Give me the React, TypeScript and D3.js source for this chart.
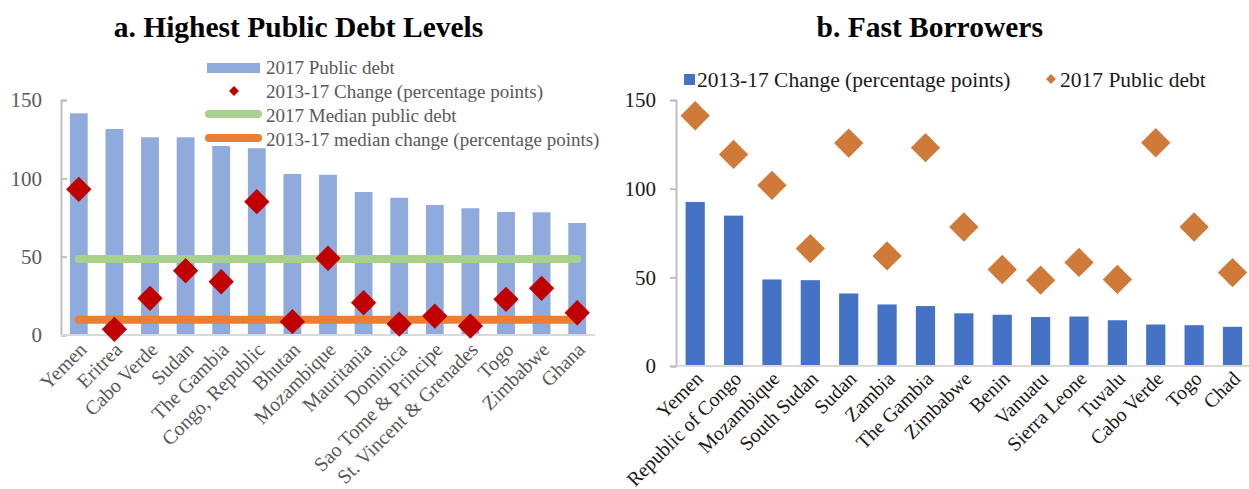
import React, { useEffect, useRef } from 'react';
import * as d3 from 'd3';

// panel a: highest public debt levels
const debtCountries = ['Yemen', 'Eritrea', 'Cabo Verde', 'Sudan', 'The Gambia', 'Congo, Republic', 'Bhutan', 'Mozambique', 'Mauritania', 'Dominica', 'Sao Tome & Principe', 'St. Vincent & Grenades', 'Togo', 'Zimbabwe', 'Ghana'];
const debtLevel = [141.5, 131.5, 126.2, 126.2, 124, 119.2, 102.8, 102.3, 91.3, 87.6, 83, 80.9, 78.5, 78.3, 71.5];
const debtChange = [93, 3.6, 23.4, 41, 34, 85.1, 8.5, 49, 20.6, 7, 12.1, 5.7, 22.8, 29.8, 14.2];
const medianDebt = 48.5;
const medianChange = 9.8;

// panel b: fast borrowers
const fastCountries = ['Yemen', 'Republic of Congo', 'Mozambique', 'South Sudan', 'Sudan', 'Zambia', 'The Gambia', 'Zimbabwe', 'Benin', 'Vanuatu', 'Sierra Leone', 'Tuvalu', 'Cabo Verde', 'Togo', 'Chad'];
const fastChange = [92.5, 84.8, 48.8, 48.4, 40.9, 34.7, 33.8, 29.7, 28.9, 27.6, 27.9, 25.8, 23.4, 23.0, 22.1];
const fastDebt = [141.1, 119.3, 101.9, 66.2, 125.7, 62.1, 123.1, 78.4, 54.4, 48.4, 58.4, 48.8, 125.9, 78.4, 52.7];

const yTicks = [0, 50, 100, 150];

const FONT = '"Liberation Serif", "Times New Roman", serif';

export default function App() {
  const ref = useRef<SVGSVGElement>(null);

  useEffect(() => {
    const svg = d3.select(ref.current);
    svg.selectAll('*').remove();
    svg.attr('font-family', FONT);

    // ---------- panel a ----------
    const xa = d3.scaleBand<string>().domain(debtCountries).range([61, 595]).paddingInner(0.5).paddingOuter(0.25);
    const ya = d3.scaleLinear().domain([0, 150]).range([335, 100]);
    const ca = (c: string) => (xa(c) as number) + xa.bandwidth() / 2;

    svg.append('text')
      .attr('x', 298.5).attr('y', 37)
      .attr('text-anchor', 'middle')
      .style('font-size', '29.5px').style('font-weight', 'bold')
      .text('a. Highest Public Debt Levels');

    const axA = svg.append('g')
      .attr('transform', 'translate(61,0)')
      .call(d3.axisRight(ya).tickValues(yTicks).tickSize(6).tickFormat(() => ''));
    axA.select('.domain').attr('stroke', '#bfbfbf').attr('stroke-width', 2);
    axA.selectAll('.tick line').attr('stroke', '#bfbfbf').attr('stroke-width', 2);
    svg.append('g').selectAll('text').data(yTicks).enter().append('text')
      .attr('x', 42).attr('y', (d) => ya(d)).attr('dy', '0.35em')
      .attr('text-anchor', 'end').attr('fill', '#595959')
      .style('font-size', '21px')
      .text((d) => d);

    svg.append('g').selectAll('rect').data(debtCountries).enter().append('rect')
      .attr('x', (d) => xa(d) as number)
      .attr('y', (d, i) => ya(debtLevel[i]))
      .attr('width', xa.bandwidth())
      .attr('height', (d, i) => ya(0) - ya(debtLevel[i]))
      .attr('fill', '#8faadc');

    svg.append('line').attr('x1', 61).attr('x2', 595).attr('y1', 335).attr('y2', 335)
      .attr('stroke', '#d9d9d9').attr('stroke-width', 2);

    const medLine = d3.line<number>().x((d, i) => ca(debtCountries[i === 0 ? 0 : debtCountries.length - 1])).y((d) => ya(d));
    svg.append('path').attr('d', medLine([medianDebt, medianDebt]))
      .attr('stroke', '#a9d18e').attr('stroke-width', 8).attr('stroke-linecap', 'round').attr('fill', 'none');
    svg.append('path').attr('d', medLine([medianChange, medianChange]))
      .attr('stroke', '#ed7d31').attr('stroke-width', 8).attr('stroke-linecap', 'round').attr('fill', 'none');

    const diamondA = d3.symbol(d3.symbolSquare, 320);
    svg.append('g').selectAll('path').data(debtCountries).enter().append('path')
      .attr('d', diamondA)
      .attr('transform', (d, i) => `translate(${ca(d)},${ya(debtChange[i])}) rotate(45)`)
      .attr('fill', '#c00000');

    svg.append('g').selectAll('text').data(debtCountries).enter().append('text')
      .attr('text-anchor', 'end')
      .attr('transform', (d) => `translate(${ca(d) + 4},${346}) rotate(-45)`)
      .attr('dy', '0.35em')
      .attr('fill', '#595959')
      .style('font-size', '20px')
      .text((d) => d);

    // legend a
    const legA = svg.append('g');
    legA.append('rect').attr('x', 203).attr('y', 54).attr('width', 400).attr('height', 92).attr('fill', '#fff');
    legA.append('rect').attr('x', 207).attr('y', 63).attr('width', 53).attr('height', 10).attr('fill', '#8faadc');
    legA.append('path').attr('d', d3.symbol(d3.symbolSquare, 50)).attr('transform', 'translate(234,91) rotate(45)').attr('fill', '#c00000');
    legA.append('line').attr('x1', 209).attr('x2', 258).attr('y1', 114).attr('y2', 114)
      .attr('stroke', '#a9d18e').attr('stroke-width', 8).attr('stroke-linecap', 'round');
    legA.append('line').attr('x1', 209).attr('x2', 258).attr('y1', 138).attr('y2', 138)
      .attr('stroke', '#ed7d31').attr('stroke-width', 8).attr('stroke-linecap', 'round');
    const legAText = ['2017 Public debt', '2013-17 Change (percentage points)', '2017 Median public debt', '2013-17 median change (percentage points)'];
    legA.selectAll('text.l').data(legAText).enter().append('text')
      .attr('x', 266).attr('y', (d, i) => 67 + i * 24).attr('dy', '0.35em')
      .attr('fill', '#595959')
      .style('font-size', '19px')
      .text((d) => d);

    // ---------- panel b ----------
    const xb = d3.scaleBand<string>().domain(fastCountries).range([676, 1251.7]).paddingInner(0.5).paddingOuter(0.25);
    const yb = d3.scaleLinear().domain([0, 150]).range([366, 100]);
    const cb = (c: string) => (xb(c) as number) + xb.bandwidth() / 2;

    svg.append('text')
      .attr('x', 929.7).attr('y', 37)
      .attr('text-anchor', 'middle')
      .style('font-size', '29.5px').style('font-weight', 'bold')
      .text('b. Fast Borrowers');

    const axB = svg.append('g')
      .attr('transform', 'translate(676,0)')
      .call(d3.axisLeft(yb).tickValues(yTicks).tickSize(6).tickFormat(() => ''));
    axB.select('.domain').attr('stroke', '#bfbfbf').attr('stroke-width', 2);
    axB.selectAll('.tick line').attr('stroke', '#bfbfbf').attr('stroke-width', 2);
    svg.append('g').selectAll('text').data(yTicks).enter().append('text')
      .attr('x', 656).attr('y', (d) => yb(d)).attr('dy', '0.35em')
      .attr('text-anchor', 'end').attr('fill', '#1a1a1a')
      .style('font-size', '21px')
      .text((d) => d);

    svg.append('g').selectAll('rect').data(fastCountries).enter().append('rect')
      .attr('x', (d) => xb(d) as number)
      .attr('y', (d, i) => yb(fastChange[i]))
      .attr('width', xb.bandwidth())
      .attr('height', (d, i) => yb(0) - yb(fastChange[i]))
      .attr('fill', '#4472c4');

    svg.append('line').attr('x1', 676).attr('x2', 1249).attr('y1', 366).attr('y2', 366)
      .attr('stroke', '#d9d9d9').attr('stroke-width', 2);

    const diamondB = d3.symbol(d3.symbolSquare, 430);
    svg.append('g').selectAll('path').data(fastCountries).enter().append('path')
      .attr('d', diamondB)
      .attr('transform', (d, i) => `translate(${cb(d)},${yb(fastDebt[i])}) rotate(45)`)
      .attr('fill', '#d07a3a');

    svg.append('g').selectAll('text').data(fastCountries).enter().append('text')
      .attr('text-anchor', 'end')
      .attr('transform', (d) => `translate(${cb(d) + 4},${375}) rotate(-45)`)
      .attr('dy', '0.35em')
      .attr('fill', '#1a1a1a')
      .style('font-size', '20px')
      .text((d) => d);

    // legend b
    const legB = svg.append('g');
    legB.append('rect').attr('x', 684).attr('y', 74).attr('width', 11).attr('height', 11).attr('fill', '#4472c4');
    legB.append('text').attr('x', 697).attr('y', 79.5).attr('dy', '0.35em').attr('fill', '#1a1a1a')
      .style('font-size', '21.5px').text('2013-17 Change (percentage points)');
    legB.append('path').attr('d', d3.symbol(d3.symbolSquare, 50)).attr('transform', 'translate(1051,79) rotate(45)').attr('fill', '#d07a3a');
    legB.append('text').attr('x', 1060).attr('y', 79.5).attr('dy', '0.35em').attr('fill', '#1a1a1a')
      .style('font-size', '21.5px').text('2017 Public debt');
  }, []);

  return (
    <div style={{ position: 'absolute', left: 0, top: 0 }}>
      <svg ref={ref} width={1249} height={489} style={{ display: 'block', background: '#fff' }} />
    </div>
  );
}
